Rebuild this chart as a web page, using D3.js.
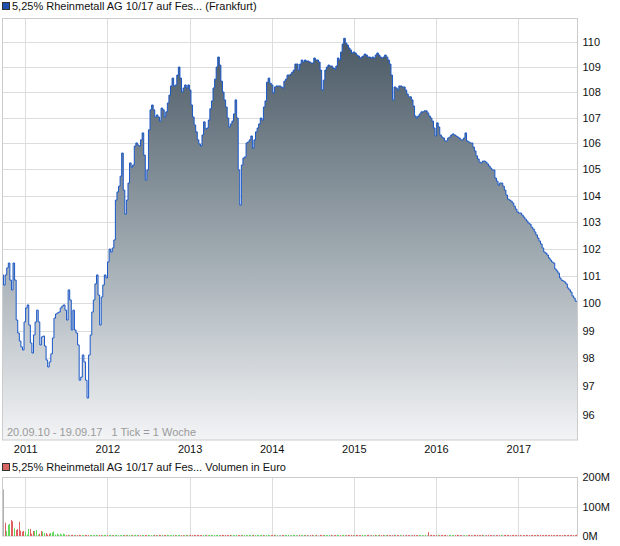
<!DOCTYPE html>
<html>
<head>
<meta charset="utf-8">
<script src="https://cdn.jsdelivr.net/npm/d3@7"></script>
<style>
  body { margin: 0; background: #fff; }
  svg text { font-family: "Liberation Sans", Arial, sans-serif; font-size: 11px; }
</style>
</head>
<body>
<div id="chart"></div>
<script>
// Titles and labels
const priceTitle = "5,25% Rheinmetall AG 10/17 auf Fes... (Frankfurt)";
const volumeTitle = "5,25% Rheinmetall AG 10/17 auf Fes... Volumen in Euro";
const rangeNote = "20.09.10 - 19.09.17   1 Tick = 1 Woche";
const yearTicks = [2011, 2012, 2013, 2014, 2015, 2016, 2017];
const priceTicks = [96, 97, 98, 99, 100, 101, 102, 103, 104, 105, 106, 107, 108, 109, 110];
const volumeTicks = [0, 100, 200];
const volumeTickLabels = ["0M", "100M", "200M"];

// Weekly closing prices from 20.09.2010
const prices = [
  101.03, 100.66, 101.03, 101.29, 101.47, 100.84, 100.48, 101.47, 100.84, 99.38,
  98.91, 98.62, 98.41, 98.30, 99.31, 99.82, 99.93, 99.20, 98.55, 98.19,
  98.84, 99.31, 99.74, 99.31, 98.48, 98.77, 98.80, 98.44, 97.94, 97.69,
  97.87, 98.16, 98.73, 99.45, 99.60, 99.64, 99.67, 99.82, 99.89, 99.93,
  99.74, 99.38, 100.48, 100.11, 99.02, 99.74, 99.02, 98.91, 98.48, 97.22,
  97.33, 98.12, 97.87, 97.22, 96.59, 98.12, 98.84, 99.67, 100.11, 100.70,
  101.03, 100.29, 99.20, 100.22, 100.66, 101.03, 100.92, 101.51, 101.99, 101.88,
  102.03, 102.33, 103.83, 104.14, 104.36, 104.74, 105.63, 104.21, 103.30, 103.83,
  104.48, 105.25, 105.09, 105.17, 105.90, 106.02, 105.94, 105.90, 106.14, 106.41,
  105.55, 104.59, 104.98, 106.53, 107.31, 107.50, 107.31, 107.03, 107.11, 107.03,
  106.87, 107.38, 107.31, 107.03, 107.23, 107.58, 107.89, 108.25, 108.56, 108.25,
  108.29, 108.68, 109.00, 108.56, 108.01, 108.17, 108.29, 108.17, 108.29, 108.09,
  107.50, 107.03, 106.72, 106.45, 106.14, 105.98, 105.90, 106.33, 106.84, 106.56,
  106.60, 106.91, 107.35, 107.66, 108.17, 108.52, 109.00, 109.40, 109.08, 108.44,
  108.01, 107.70, 107.42, 106.99, 106.64, 106.76, 106.87, 107.15, 107.70, 106.99,
  104.98, 103.64, 105.17, 105.44, 105.48, 106.02, 106.06, 106.14, 106.29, 105.82,
  106.14, 106.45, 106.60, 106.76, 106.99, 106.91, 107.42, 107.66, 108.40, 108.56,
  108.36, 108.29, 107.97, 108.21, 108.25, 108.25, 108.25, 108.21, 108.17, 108.44,
  108.52, 108.68, 108.68, 108.72, 108.80, 108.88, 109.12, 109.12, 108.88, 109.12,
  109.28, 109.20, 109.28, 109.24, 109.24, 109.20, 109.16, 109.16, 109.36, 109.28,
  109.28, 109.20, 108.88, 108.09, 108.48, 108.88, 109.00, 109.08, 109.04, 109.04,
  108.96, 108.92, 109.04, 109.36, 109.28, 109.60, 109.92, 110.15, 109.96, 109.88,
  109.76, 109.68, 109.56, 109.60, 109.56, 109.48, 109.44, 109.36, 109.40, 109.44,
  109.52, 109.48, 109.40, 109.40, 109.36, 109.40, 109.36, 109.48, 109.56, 109.48,
  109.40, 109.36, 109.40, 109.48, 109.40, 109.28, 109.12, 108.68, 107.70, 108.21,
  108.17, 108.09, 108.25, 108.25, 108.21, 108.21, 108.09, 107.93, 107.82, 107.82,
  107.70, 107.46, 107.07, 106.99, 107.07, 107.15, 107.23, 107.23, 107.27, 107.27,
  107.19, 107.07, 106.99, 106.87, 106.60, 106.29, 106.80, 106.64, 106.33, 106.25,
  106.21, 106.10, 106.10, 106.21, 106.25, 106.33, 106.37, 106.33, 106.29, 106.25,
  106.21, 106.14, 106.14, 106.21, 106.41, 106.10, 106.06, 106.02, 106.02, 105.86,
  105.71, 105.52, 105.40, 105.28, 105.25, 105.32, 105.32, 105.28, 105.21, 105.13,
  105.05, 104.98, 104.98, 104.67, 104.55, 104.40, 104.48, 104.48, 104.36, 104.21,
  104.02, 103.87, 103.83, 103.79, 103.72, 103.60, 103.49, 103.38, 103.34, 103.34,
  103.26, 103.19, 103.11, 103.04, 102.96, 102.92, 102.81, 102.74, 102.63, 102.52,
  102.40, 102.29, 102.18, 102.03, 101.88, 101.84, 101.77, 101.66, 101.58, 101.51,
  101.47, 101.25, 101.18, 101.10, 100.92, 100.84, 100.81, 100.77, 100.70, 100.55,
  100.48, 100.40, 100.26, 100.18, 100.07
];

// Weekly volume in million euro
const volumes = [
  158, 45, 17, 38, 41, 54, 50, 26, 20, 24,
  48, 18, 15, 17, 15, 5, 24, 24, 8, 17,
  17, 20, 5, 8, 17, 15, 10, 10, 5, 8,
  10, 12, 15, 5, 8, 5, 8, 5, 8, 6,
  3, 4, 3, 3, 4, 3, 3, 3, 4, 3,
  3, 3, 4, 3, 3, 3, 4, 3, 3, 4,
  3, 4, 3, 3, 4, 3, 3, 3, 4, 3,
  3, 3, 4, 3, 3, 3, 4, 3, 3, 4,
  3, 4, 3, 3, 4, 3, 3, 3, 4, 3,
  3, 3, 4, 3, 3, 3, 4, 3, 3, 4,
  3, 4, 3, 3, 4, 3, 3, 3, 4, 3,
  3, 3, 4, 3, 3, 3, 4, 3, 3, 4,
  3, 4, 3, 3, 4, 3, 3, 3, 4, 3,
  3, 3, 4, 3, 3, 3, 4, 3, 3, 4,
  3, 4, 3, 3, 4, 3, 3, 3, 4, 3,
  3, 3, 4, 3, 3, 3, 4, 3, 3, 4,
  3, 4, 3, 3, 4, 3, 3, 3, 4, 3,
  3, 3, 4, 3, 3, 3, 4, 3, 3, 4,
  3, 4, 3, 3, 4, 3, 3, 3, 4, 3,
  3, 3, 4, 3, 3, 3, 4, 3, 3, 4,
  3, 4, 3, 3, 4, 3, 3, 3, 4, 3,
  3, 3, 4, 3, 3, 3, 4, 3, 3, 4,
  3, 4, 3, 3, 4, 3, 3, 3, 4, 3,
  3, 3, 4, 3, 3, 3, 4, 3, 3, 4,
  3, 4, 3, 3, 4, 3, 3, 3, 4, 3,
  3, 3, 4, 3, 3, 3, 4, 3, 3, 4,
  3, 4, 3, 3, 4, 3, 3, 3, 4, 3,
  13, 3, 4, 3, 3, 3, 4, 3, 3, 4,
  3, 4, 3, 3, 4, 3, 3, 3, 4, 3,
  3, 3, 4, 3, 3, 3, 4, 3, 3, 4,
  3, 4, 3, 3, 4, 3, 3, 3, 4, 3,
  3, 3, 4, 3, 3, 3, 4, 3, 3, 4,
  3, 4, 3, 3, 4, 3, 3, 3, 4, 3,
  3, 3, 4, 3, 3, 3, 4, 3, 3, 4,
  3, 4, 3, 3, 4, 3, 3, 3, 4, 3,
  3, 3, 4, 3, 3, 3, 4, 3, 3, 4,
  3, 4, 3, 3, 4
];

const width = 620;
const height = 546;
const startDate = new Date(2010, 8, 20);
const endDate = new Date(2017, 8, 19);

const data = prices.map((p, i) => ({
  date: d3.timeDay.offset(startDate, i * 7),
  price: p,
  volume: volumes[i],
  dir: i === 0 ? 0 : Math.sign(p - prices[i - 1])
}));
// carry the last value to the end of the range
const lineData = data.concat([{ date: endDate, price: prices[prices.length - 1] }]);

const svg = d3.select("#chart")
  .append("svg")
  .attr("width", width)
  .attr("height", height);

// Scales
const left = 2.5, right = 577.5;
const x = d3.scaleTime()
  .domain([startDate, endDate])
  .range([2, 577]);
const y = d3.scaleLog()
  .domain([95.12, 110.97])
  .range([440, 18]);
const yVol = d3.scaleLinear()
  .domain([0, 200])
  .range([536, 477]);

const yearDates = yearTicks.map(yr => new Date(yr, 0, 1));

// Gradient for the price area
const grad = svg.append("defs").append("linearGradient")
  .attr("id", "areaGrad")
  .attr("x1", 0).attr("y1", 0).attr("x2", 0).attr("y2", 1);
grad.append("stop").attr("offset", "0%").attr("stop-color", "#4a5965");
grad.append("stop").attr("offset", "55%").attr("stop-color", "#a2acb3");
grad.append("stop").attr("offset", "100%").attr("stop-color", "#f3f4f6");

// Legend
svg.append("rect")
  .attr("x", 2.5).attr("y", 2.5).attr("width", 7).attr("height", 7)
  .attr("fill", "#1f4fb0").attr("stroke", "#333");
svg.append("text")
  .attr("x", 12).attr("y", 10)
  .attr("fill", "#111")
  .text(priceTitle);

// Grid lines (price panel)
svg.append("g")
  .selectAll("line")
  .data(priceTicks)
  .join("line")
  .attr("x1", left).attr("x2", right)
  .attr("y1", d => Math.round(y(d)) + 0.5)
  .attr("y2", d => Math.round(y(d)) + 0.5)
  .attr("stroke", "#dddddd");
svg.append("g")
  .selectAll("line")
  .data(yearDates)
  .join("line")
  .attr("x1", d => Math.round(x(d)) + 0.5)
  .attr("x2", d => Math.round(x(d)) + 0.5)
  .attr("y1", 18).attr("y2", 440)
  .attr("stroke", "#dddddd");

// Area and line
const area = d3.area()
  .curve(d3.curveStepAfter)
  .x(d => x(d.date))
  .y0(440)
  .y1(d => y(d.price));
const line = d3.line()
  .curve(d3.curveStepAfter)
  .x(d => x(d.date))
  .y(d => y(d.price));

svg.append("path")
  .datum(lineData)
  .attr("d", area)
  .attr("fill", "url(#areaGrad)");
svg.append("path")
  .datum(lineData)
  .attr("d", line)
  .attr("fill", "none")
  .attr("stroke", "#1a58c8")
  .attr("stroke-width", 1);

// Frame
svg.append("rect")
  .attr("x", left).attr("y", 18.5)
  .attr("width", right - left).attr("height", 421.5)
  .attr("fill", "none")
  .attr("stroke", "#cccccc");

// Range note
svg.append("text")
  .attr("x", 7).attr("y", 436)
  .attr("fill", "#9a9a9a")
  .style("white-space", "pre")
  .text(rangeNote);

// Right axis (price)
svg.append("g")
  .attr("transform", `translate(${right}, 0)`)
  .call(d3.axisRight(y).tickValues(priceTicks).tickFormat(d3.format("d")).tickSize(0).tickPadding(5))
  .call(g => g.select(".domain").remove())
  .call(g => g.selectAll("text").attr("fill", "#111").attr("font-size", 11)
    .attr("font-family", "Liberation Sans, Arial, sans-serif"));

// Bottom axis (years)
svg.append("g")
  .attr("transform", "translate(0, 440)")
  .call(d3.axisBottom(x).tickValues(yearDates).tickFormat(d3.timeFormat("%Y")).tickSize(0).tickPadding(5))
  .call(g => g.select(".domain").remove())
  .call(g => g.selectAll("text").attr("fill", "#111").attr("font-size", 11)
    .attr("font-family", "Liberation Sans, Arial, sans-serif"));

// ---------------- Volume panel ----------------
svg.append("rect")
  .attr("x", 2.5).attr("y", 463.5).attr("width", 7).attr("height", 7)
  .attr("fill", "#d96464").attr("stroke", "#333");
svg.append("text")
  .attr("x", 12).attr("y", 471)
  .attr("fill", "#111")
  .text(volumeTitle);

svg.append("g")
  .selectAll("line")
  .data(yearDates)
  .join("line")
  .attr("x1", d => Math.round(x(d)) + 0.5)
  .attr("x2", d => Math.round(x(d)) + 0.5)
  .attr("y1", 477).attr("y2", 536)
  .attr("stroke", "#dddddd");
svg.append("line")
  .attr("x1", left).attr("x2", right)
  .attr("y1", Math.round(yVol(100)) + 0.5).attr("y2", Math.round(yVol(100)) + 0.5)
  .attr("stroke", "#dddddd");

svg.append("rect")
  .attr("x", left).attr("y", 477.5)
  .attr("width", right - left).attr("height", 58.5)
  .attr("fill", "none")
  .attr("stroke", "#cccccc");

svg.append("g")
  .selectAll("rect")
  .data(data)
  .join("rect")
  .attr("x", d => Math.round(x(d.date)) + 1)
  .attr("width", 1)
  .attr("y", d => yVol(d.volume))
  .attr("height", d => yVol(0) - yVol(d.volume))
  .attr("fill", d => d.dir === 0 ? "#b0b0b0" : (d.dir > 0 ? "#5fd85a" : "#e06060"));

svg.append("g")
  .attr("transform", `translate(${right}, 0)`)
  .call(d3.axisRight(yVol).tickValues(volumeTicks).tickFormat((d, i) => volumeTickLabels[i]).tickSize(0).tickPadding(5))
  .call(g => g.select(".domain").remove())
  .call(g => g.selectAll("text").attr("fill", "#111").attr("font-size", 11)
    .attr("font-family", "Liberation Sans, Arial, sans-serif"));
</script>
</body>
</html>
